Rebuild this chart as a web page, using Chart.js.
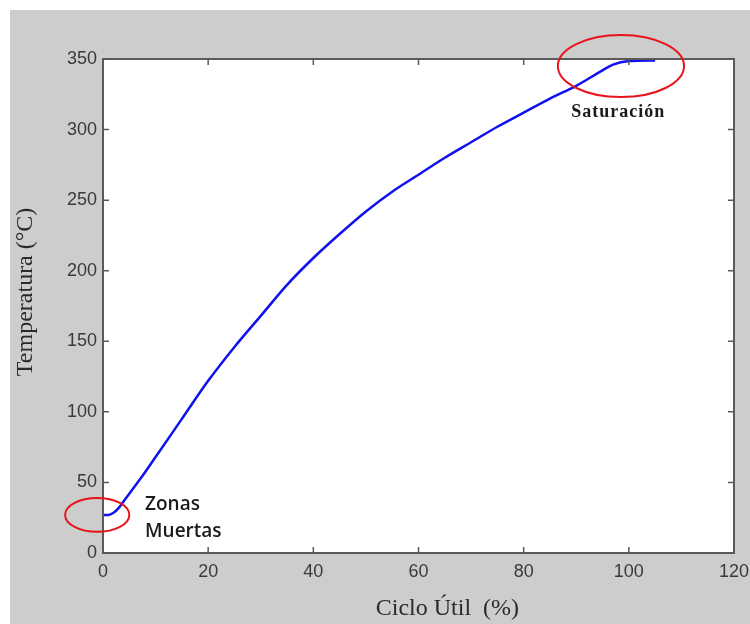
<!DOCTYPE html>
<html>
<head>
<meta charset="utf-8">
<script src="https://cdn.jsdelivr.net/npm/chart.js@4"></script>
<style>
  body { margin: 0; background: #fff; }
  #canvas_div {
    position: absolute; left: 10px; top: 10px;
    width: 740px; height: 614px; background: #cdcdcd;
  }
</style>
</head>
<body>
<div id="canvas_div"><canvas id="myChart" width="740" height="614"></canvas></div>
<script>
// duty cycle (%) vs temperature (°C)
const cicloUtil = [0, 1, 2, 3, 4, 5, 7, 10, 15, 20, 25, 30, 35, 40, 45, 50, 55, 60, 65, 70, 75, 80, 85, 90, 95, 97, 100, 105];
const temperatura = [27, 27, 28.5, 32, 37, 42, 52, 68, 95, 122, 146, 168, 190, 209, 226, 242, 256, 268, 280, 291, 302, 312, 322, 331, 342, 346, 348.5, 349];

const xTicks = [0, 20, 40, 60, 80, 100, 120];
const yTicks = [0, 50, 100, 150, 200, 250, 300, 350];

// red circles and notes, in data units
const marks = [
  { x: -1.1, y: 27, rx: 6.1, ry: 12 },
  { x: 98.5, y: 345, rx: 12, ry: 22 }
];
const notes = [
  { text: "Zonas", x: 8, y: 34, font: "600 19px 'Open Sans'", align: "left", spacing: "0px" },
  { text: "Muertas", x: 8, y: 15, font: "600 19px 'Open Sans'", align: "left", spacing: "0px" },
  { text: "Saturación", x: 98, y: 312, font: "bold 18px 'Liberation Serif'", align: "center", spacing: "1px" }
];

const framePlugin = {
  id: "frame",
  beforeDraw(chart) {
    const { ctx, chartArea: a } = chart;
    ctx.save();
    ctx.fillStyle = "#fff";
    ctx.fillRect(a.left, a.top, a.right - a.left, a.bottom - a.top);
    ctx.restore();
  },
  afterDraw(chart) {
    const { ctx, chartArea: a, scales } = chart;
    const xs = scales.x, ys = scales.y;
    ctx.save();
    ctx.strokeStyle = "#5a5a5a";
    ctx.lineWidth = 2;
    ctx.strokeRect(a.left, a.top, a.right - a.left, a.bottom - a.top);
    ctx.lineWidth = 1.5;
    ctx.beginPath();
    xTicks.forEach((v) => {
      const px = xs.getPixelForValue(v);
      ctx.moveTo(px, a.bottom); ctx.lineTo(px, a.bottom - 6);
      ctx.moveTo(px, a.top); ctx.lineTo(px, a.top + 6);
    });
    yTicks.forEach((v) => {
      const py = ys.getPixelForValue(v);
      ctx.moveTo(a.left, py); ctx.lineTo(a.left + 6, py);
      ctx.moveTo(a.right, py); ctx.lineTo(a.right - 6, py);
    });
    ctx.stroke();

    // circles
    ctx.strokeStyle = "#e8141c";
    ctx.lineWidth = 2;
    marks.forEach((m) => {
      const cx = xs.getPixelForValue(m.x), cy = ys.getPixelForValue(m.y);
      const rx = Math.abs(xs.getPixelForValue(m.x + m.rx) - cx);
      const ry = Math.abs(ys.getPixelForValue(m.y + m.ry) - cy);
      ctx.beginPath();
      ctx.ellipse(cx, cy, rx, ry, 0, 0, Math.PI * 2);
      ctx.stroke();
    });

    // notes
    ctx.fillStyle = "#1a1a1a";
    ctx.textBaseline = "middle";
    notes.forEach((n) => {
      ctx.font = n.font;
      ctx.letterSpacing = n.spacing;
      ctx.textAlign = n.align;
      ctx.fillText(n.text, xs.getPixelForValue(n.x), ys.getPixelForValue(n.y));
    });
    ctx.letterSpacing = "0px";

    // axis titles
    ctx.fillStyle = "#2a2a2a";
    ctx.font = "24px 'Liberation Serif'";
    ctx.textAlign = "center";
    ctx.fillText("Ciclo Útil  (%)", xs.getPixelForValue(65.5), a.bottom + 56);
    ctx.save();
    ctx.translate(16, ys.getPixelForValue(185));
    ctx.rotate(-Math.PI / 2);
    ctx.fillText("Temperatura (°C)", 0, 0);
    ctx.restore();
    ctx.restore();
  }
};

const data = {
  datasets: [{
    label: "Temperatura",
    data: cicloUtil.map((x, i) => ({ x: x, y: temperatura[i] })),
    borderColor: "#1010f0",
    borderWidth: 2.5,
    pointRadius: 0,
    cubicInterpolationMode: "monotone",
    fill: false
  }]
};

const tickFont = { family: "'Liberation Sans', Arial", size: 18 };

const config = {
  type: "line",
  data: data,
  options: {
    responsive: false,
    animation: false,
    layout: { padding: { left: 0, top: 49, right: 16, bottom: 0 } },
    plugins: { legend: { display: false }, tooltip: { enabled: false } },
    scales: {
      x: {
        type: "linear", min: 0, max: 120,
        grid: { display: false }, border: { display: false },
        afterBuildTicks: (s) => { s.ticks = xTicks.map((v) => ({ value: v })); },
        afterFit: (s) => { s.height = 71; },
        ticks: { font: tickFont, color: "#3a3a3a", padding: 0, maxRotation: 0 }
      },
      y: {
        type: "linear", min: 0, max: 350,
        grid: { display: false }, border: { display: false },
        afterBuildTicks: (s) => { s.ticks = yTicks.map((v) => ({ value: v })); },
        afterFit: (s) => { s.width = 93; },
        ticks: { font: tickFont, color: "#3a3a3a", padding: -2 }
      }
    }
  },
  plugins: [framePlugin]
};

window.onload = () => {
  const myChart = new Chart(document.getElementById("myChart"), config);
};
</script>
</body>
</html>
